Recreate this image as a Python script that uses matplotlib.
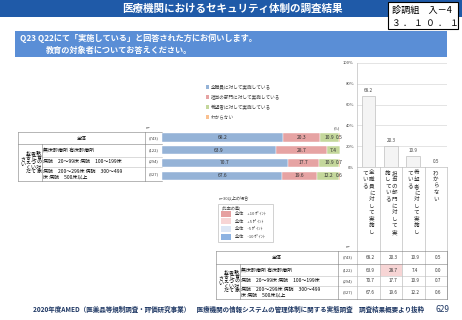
import matplotlib
matplotlib.use('Agg')
import matplotlib.pyplot as plt
from matplotlib.patches import Rectangle
import numpy as np

plt.rcParams['font.family'] = ['Noto Sans CJK JP', 'DejaVu Sans']

# ---------------- data ----------------
title = '医療機関におけるセキュリティ体制の調査結果'
doc_id = ['診調組　入－4', '３．１０．１']
question = ['Q23 Q22にて「実施している」と回答された方にお伺いします。', '教育の対象者についてお答えください。']
series = ['全職員に対して実施している', '担当の部門に対して実施している', '希望者に対して実施している', 'わからない']
series_colors = ['#95B3D7', '#E6A3A3', '#C4D79B', '#FAC090']
row_labels = ['全体', '無床診療所 有床診療所', '病院　20～99床 病院　100～199床',
              '病院　200～299床 病院　300～499\n床 病院　500床以上']
n_labels = ['(743)', '(122)', '(294)', '(327)']
all_staff = [68.2, 63.9, 70.7, 67.6]
dept = [20.3, 28.7, 17.7, 19.6]
hope = [10.9, 7.4, 10.9, 12.2]
unknown = [0.5, 0.0, 0.7, 0.6]
vert_cols = ['教育の対象', '者について', 'お答えくだ', 'さい']
cat_vertical = [['全職員に対して実施し', 'ている'], ['担当の部門に対して実', '施している'],
                ['希望者に対して実施し', 'ている'], ['わからない']]
yticks = [0, 20, 40, 60, 80, 100]
diff_title = 'n=30以上の場合'
diff_labels = ['全体　+10 ﾎﾟｲﾝﾄ', '全体　+5 ﾎﾟｲﾝﾄ', '全体　-5 ﾎﾟｲﾝﾄ', '全体　-10 ﾎﾟｲﾝﾄ']
diff_colors = ['#E6A0A0', '#F7D5D5', '#DCE6F5', '#8DB3E2']
footer = '2020年度AMED（医薬品等規制調査・評価研究事業）　医療機関の情報システムの管理体制に関する実態調査　調査結果概要より抜粋'
page = '629'

W, H = 462, 320
fig = plt.figure(figsize=(W / 100, H / 100), dpi=100)
ov = fig.add_axes([0, 0, 1, 1])
ov.set_xlim(0, W)
ov.set_ylim(H, 0)
ov.axis('off')


def px_axes(x0, y0, x1, y1):
    return fig.add_axes([x0 / W, 1 - y1 / H, (x1 - x0) / W, (y1 - y0) / H])


# ---------------- header ----------------
ov.add_patch(Rectangle((0, 0), W, 17, color='#1F5AA8', lw=0))
ov.text(232, 9, title, color='white', fontsize=7.6, fontweight='bold', ha='center', va='center')
ov.add_patch(Rectangle((388, 2), 70, 27, facecolor='white', edgecolor='black', lw=0.8))
ov.text(392, 10, doc_id[0], fontsize=6.6, ha='left', va='center')
# spread the date characters across the box
date_chars = list(doc_id[1])
for k, ch in enumerate(date_chars):
    ov.text(395 + k * 11.8, 23, ch, fontsize=6.3, ha='center', va='center')

ov.add_patch(Rectangle((15, 31), 432, 26, color='#5A8ED6', lw=0))
ov.text(20, 38.5, question[0], color='white', fontsize=5.9, fontweight='bold', ha='left', va='center')
ov.text(46, 50, question[1], color='white', fontsize=5.9, fontweight='bold', ha='left', va='center')

# ---------------- legend ----------------
for i, (s, c) in enumerate(zip(series, series_colors)):
    y = 87 + i * 10
    ov.add_patch(Rectangle((206, y - 1.6), 3.2, 3.2, color=c, lw=0))
    ov.text(211, y, s, fontsize=3.3, ha='left', va='center', color='#404040')

# ---------------- left table ----------------
tab_l, vcol_r, lab_r, n_r = 18, 42, 145, 162
row_lines = [132, 144, 156.5, 167, 181]
ov.text(148, 128, 'n=', fontsize=2.8, color='#404040', ha='center', va='center')
ov.text(337, 128.5, '(%)', fontsize=2.8, color='#404040', ha='center', va='center')
ov.plot([tab_l, n_r], [row_lines[0]] * 2, color='#7F7F7F', lw=0.4)
ov.plot([tab_l, n_r], [row_lines[-1]] * 2, color='#7F7F7F', lw=0.4)
ov.plot([tab_l, n_r], [row_lines[1]] * 2, color='#7F7F7F', lw=0.4)
for yl in row_lines[2:-1]:
    ov.plot([vcol_r, n_r], [yl, yl], color='#BFBFBF', lw=0.4)
ov.plot([tab_l, tab_l], [row_lines[0], row_lines[-1]], color='#7F7F7F', lw=0.4)
ov.plot([vcol_r, vcol_r], [row_lines[1], row_lines[-1]], color='#7F7F7F', lw=0.4)
ov.plot([lab_r, lab_r], [row_lines[0], row_lines[-1]], color='#7F7F7F', lw=0.4)


def table_text(tl, vr, lr, rl, n_x):
    for i in range(4):
        yc = (rl[i] + rl[i + 1]) / 2
        if i == 0:
            ov.text((tl + lr) / 2, yc, row_labels[i], fontsize=3.6, ha='center', va='center')
        else:
            ov.text(vr + 1, yc, row_labels[i], fontsize=3.6, ha='left', va='center', linespacing=1.1)
        ov.text(n_x, yc, n_labels[i], fontsize=3.0, ha='center', va='center', color='#404040')
    # vertical group title
    pitch = 4.6
    ymid = (rl[1] + rl[-1]) / 2
    ncol = len(vert_cols)
    for j, col in enumerate(vert_cols):
        x = vr - 3.2 - j * 5.4
        y0 = ymid - (5 - 1) * pitch / 2 if j < ncol - 1 else ymid - (len(col) - 1) * pitch / 2
        for k, ch in enumerate(col):
            ov.text(x, y0 + k * pitch, ch, fontsize=3.6, ha='center', va='center')


table_text(tab_l, vcol_r, lab_r, row_lines, 153.5)

# stacked bars
axb = px_axes(162, 131.2, 340, 182)
axb.patch.set_alpha(0)
ypos = np.arange(len(row_labels))
left = np.zeros(4)
for vals, c in zip([all_staff, dept, hope, unknown], series_colors):
    vals = np.array(vals)
    axb.barh(ypos, vals, left=left, height=0.64, color=c, edgecolor='white', lw=0.3)
    for y, v, l in zip(ypos, vals, left):
        if v > 0:
            axb.text(l + v / 2, y, f'{v:.1f}', fontsize=3.6, ha='center', va='center', color='#333333')
    left += vals
axb.set_xlim(0, 100)
axb.set_ylim(3.5, -0.5)
axb.axis('off')

# ---------------- diff legend ----------------
ov.text(219, 197.5, diff_title, fontsize=3.0, ha='left', va='center', color='#404040')
ov.add_patch(Rectangle((218, 204), 55, 38, facecolor='white', edgecolor='#BFBFBF', lw=0.5))
ov.text(221, 208, '[比率の差]', fontsize=3.0, ha='left', va='center', color='#404040')
for i, (lab, c) in enumerate(zip(diff_labels, diff_colors)):
    y = 213.5 + i * 7.8
    ov.add_patch(Rectangle((220.5, y - 3), 10, 6, color=c, lw=0))
    ov.text(235, y, lab, fontsize=3.0, ha='left', va='center', color='#404040')

# ---------------- right column chart ----------------
axr = px_axes(357.3, 62.7, 447, 167.3)
axr.patch.set_alpha(0)
totals = [all_staff[0], dept[0], hope[0], unknown[0]]
xs = np.arange(4)
axr.bar(xs, totals, width=0.62, color='#F4F4F4', edgecolor='#BFBFBF', lw=0.5, zorder=3)
for x, v in zip(xs, totals):
    axr.text(x, v + 3, f'{v:.1f}', fontsize=3.3, ha='center', va='bottom', color='#404040')
axr.set_xlim(-0.5, 3.5)
axr.set_ylim(0, 100)
axr.set_yticks(yticks)
axr.set_yticklabels([f'{t}%' for t in yticks], fontsize=3.0, color='#404040')
axr.set_xticks([])
axr.tick_params(axis='y', length=0, pad=2.5)
axr.grid(axis='y', color='#D9D9D9', lw=0.5, zorder=0)
for sp in ['top', 'right']:
    axr.spines[sp].set_visible(False)
axr.spines['left'].set_color('#BFBFBF')
axr.spines['bottom'].set_color('#BFBFBF')
axr.spines['left'].set_linewidth(0.5)
axr.spines['bottom'].set_linewidth(0.5)

# category separators + vertical labels
col_edges = [357.3, 379.7, 402.2, 424.6, 447]
for xe in col_edges:
    ov.plot([xe, xe], [167.3, 299], color='#BFBFBF', lw=0.5)
for i, cols in enumerate(cat_vertical):
    xc = (col_edges[i] + col_edges[i + 1]) / 2
    offs = [3.2, -3.2] if len(cols) == 2 else [0]
    for col, off in zip(cols, offs):
        for k, ch in enumerate(col):
            ov.text(xc + off, 173 + k * 6.6, ch, fontsize=4.0, ha='center', va='center', color='#333333')

# ---------------- bottom table ----------------
tl2, vr2, lr2, nr2 = 216, 240, 338, 357.3
rl2 = [251, 264, 276, 286, 299]
ov.text(348, 247.5, 'n=', fontsize=2.8, color='#404040', ha='center', va='center')
ov.plot([tl2, 447], [rl2[0]] * 2, color='#7F7F7F', lw=0.4)
ov.plot([tl2, 447], [rl2[-1]] * 2, color='#7F7F7F', lw=0.4)
ov.plot([tl2, 447], [rl2[1]] * 2, color='#7F7F7F', lw=0.4)
for yl in rl2[2:-1]:
    ov.plot([vr2, 447], [yl, yl], color='#BFBFBF', lw=0.4)
ov.plot([tl2, tl2], [rl2[0], rl2[-1]], color='#7F7F7F', lw=0.4)
ov.plot([vr2, vr2], [rl2[1], rl2[-1]], color='#7F7F7F', lw=0.4)
ov.plot([lr2, lr2], [rl2[0], rl2[-1]], color='#7F7F7F', lw=0.4)
ov.plot([447, 447], [rl2[0], rl2[-1]], color='#7F7F7F', lw=0.4)
table_text(tl2, vr2, lr2, rl2, 347.5)
table_vals = [all_staff, dept, hope, unknown]
for i in range(4):
    yc = (rl2[i] + rl2[i + 1]) / 2
    for j in range(4):
        v = table_vals[j][i]
        diff = v - table_vals[j][0]
        if i > 0 and diff >= 10:
            fc = diff_colors[0]
        elif i > 0 and diff >= 5:
            fc = diff_colors[1]
        elif i > 0 and diff <= -10:
            fc = diff_colors[3]
        elif i > 0 and diff <= -5:
            fc = diff_colors[2]
        else:
            fc = None
        if fc:
            ov.add_patch(Rectangle((col_edges[j] + 0.3, rl2[i] + 0.3), col_edges[j + 1] - col_edges[j] - 0.6,
                                   rl2[i + 1] - rl2[i] - 0.6, color=fc, lw=0))
        ov.text((col_edges[j] + col_edges[j + 1]) / 2 + 2, yc, f'{v:.1f}', fontsize=3.3,
                ha='center', va='center', color='#333333')

# ---------------- footer ----------------
ov.text(33, 309.5, footer, fontsize=4.7, fontweight='bold', color='#1F3864', ha='left', va='center')
ov.text(442, 309.5, page, fontsize=6.0, color='#1F3864', ha='center', va='center')

fig.savefig('out.png', dpi=100)
